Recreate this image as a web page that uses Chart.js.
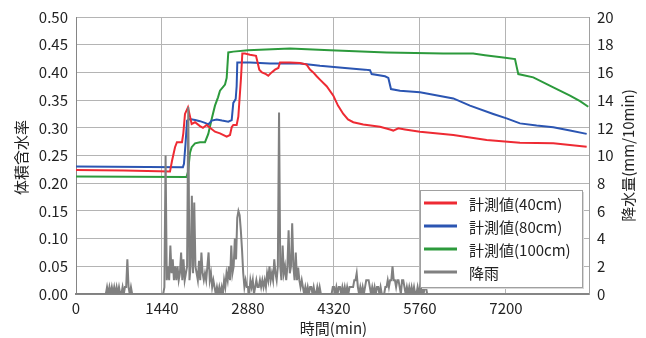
<!DOCTYPE html>
<html>
<head>
<meta charset="utf-8">
<script src="https://cdn.jsdelivr.net/npm/chart.js@4"></script>
<style>
  html, body { margin: 0; padding: 0; background: #fff; }
</style>
</head>
<body>
<canvas id="chart" width="646" height="338"></canvas>
<script>
// 経過時間 (min) と体積含水率 — 深さ別
const t40 = [0, 800, 1574, 1607, 1658, 1690, 1775, 1797, 1825, 1875, 1937, 1993, 2076, 2126, 2188, 2244,
  2327, 2411, 2523, 2579, 2607, 2634, 2690, 2718, 2763, 2785, 2830, 2913, 3014, 3047, 3069, 3114,
  3181, 3220, 3276, 3332, 3388, 3416, 3583, 3751, 3862, 3918, 3973, 4030, 4085, 4197, 4309, 4387,
  4476, 4554, 4643, 4810, 5090, 5258, 5313, 5397, 5509, 5760, 6318, 6877, 7434, 7992, 8551];
const v40 = [0.224, 0.223, 0.221, 0.240, 0.265, 0.274, 0.274, 0.290, 0.325, 0.337, 0.307, 0.310, 0.303, 0.300, 0.305, 0.300,
  0.293, 0.290, 0.284, 0.287, 0.301, 0.305, 0.305, 0.320, 0.390, 0.434, 0.434, 0.432, 0.430, 0.415, 0.405, 0.400,
  0.397, 0.394, 0.400, 0.405, 0.408, 0.418, 0.418, 0.417, 0.414, 0.405, 0.400, 0.393, 0.387, 0.375, 0.358, 0.340,
  0.325, 0.315, 0.310, 0.306, 0.302, 0.297, 0.295, 0.299, 0.297, 0.293, 0.287, 0.278, 0.273, 0.272, 0.266];

const t80 = [0, 1790, 1808, 1833, 1860, 1909, 1993, 2076, 2160, 2215, 2272, 2356, 2445, 2550, 2607, 2634,
  2674, 2690, 2701, 2913, 3248, 3751, 4085, 4504, 4839, 4923, 4951, 5174, 5230, 5274, 5425, 5760,
  6318, 6597, 6987, 7210, 7434, 7713, 7992, 8272, 8551];
const v80 = [0.230, 0.229, 0.235, 0.270, 0.313, 0.316, 0.314, 0.312, 0.309, 0.306, 0.313, 0.315, 0.313, 0.311, 0.314, 0.345,
  0.352, 0.375, 0.418, 0.418, 0.416, 0.416, 0.412, 0.408, 0.405, 0.404, 0.397, 0.393, 0.390, 0.370, 0.367, 0.364,
  0.353, 0.340, 0.325, 0.317, 0.308, 0.304, 0.301, 0.295, 0.289];

const t100 = [0, 1850, 1875, 1909, 1937, 1993, 2076, 2160, 2215, 2272, 2327, 2378, 2411, 2495, 2523, 2550,
  2634, 2880, 3583, 4253, 5202, 6150, 6650, 6848, 7155, 7351, 7379, 7406, 7657, 7992, 8272, 8440, 8578];
const v100 = [0.212, 0.211, 0.220, 0.255, 0.265, 0.272, 0.274, 0.274, 0.289, 0.316, 0.340, 0.355, 0.367, 0.378, 0.390, 0.436,
  0.4375, 0.440, 0.443, 0.440, 0.436, 0.434, 0.434, 0.431, 0.427, 0.424, 0.410, 0.397, 0.391, 0.373, 0.358, 0.348, 0.338];

// 降雨 (mm/10min)、20分おき、0分から
const rainStep = 20;
const rain = [
  0, 0, 0, 0, 0, 0, 0, 0, 0, 0, 0, 0,
  0, 0, 0, 0, 0, 0, 0, 0, 0, 0, 0, 0,
  0, 0, 0.5, 0, 0.5, 0, 0.5, 0, 0.5, 0, 0.5, 0,
  0.5, 0, 0, 0.5, 0, 0.5, 0.5, 2.5, 0.5, 0, 0.5, 0,
  0, 0, 0, 0, 0, 0, 0, 0, 0, 0, 0, 0,
  0, 0, 0, 0, 0, 0, 0, 0, 0, 0, 0, 0,
  0, 0, 0.5, 10.0, 1.0, 2.0, 1.0, 3.5, 1.5, 2.5, 1.0, 2.0,
  1.0, 2.0, 1.0, 1.5, 3.0, 1.0, 2.5, 1.0, 1.5, 2.0, 13.5, 1.0,
  2.0, 7.1, 1.5, 6.6, 2.0, 1.5, 1.0, 2.4, 1.0, 3.0, 1.5, 1.0,
  1.5, 1.0, 2.0, 3.0, 1.0, 1.5, 0.5, 1.0, 0.5, 0, 0.5, 0,
  0.5, 0, 0.5, 0, 1.0, 0.5, 1.5, 1.0, 2.0, 1.0, 3.5, 1.5,
  2.0, 4.0, 2.5, 5.5, 6.0, 5.7, 4.6, 3.2, 1.5, 0.5, 1.0, 0.5,
  0.5, 0, 1.0, 0.5, 1.0, 0, 0.5, 1.0, 0.5, 0.5, 1.0, 0.5,
  1.0, 0.5, 1.0, 0.5, 1.5, 1.0, 2.0, 1.0, 1.5, 1.0, 2.5, 1.5,
  1.0, 2.0, 13.1, 2.0, 1.0, 3.5, 1.5, 2.0, 1.0, 2.0, 4.6, 1.5,
  2.0, 5.1, 2.0, 1.0, 3.0, 1.0, 1.9, 1.0, 0.5, 1.0, 0.5, 0,
  0.5, 0, 0.5, 0, 0.5, 0.5, 0, 0.5, 0, 0, 0.5, 0,
  0.5, 0, 0, 0, 0, 0, 0, 0, 0, 0, 0, 0.5,
  0.5, 0, 0.5, 0, 0.5, 0.5, 0, 0.5, 0, 0.5, 0, 0.5,
  0, 0.5, 0.5, 0.5, 0.5, 1.0, 1.0, 1.5, 0.5, 0, 0.5, 0,
  0.5, 0, 0.5, 1.0, 1.0, 1.0, 0.5, 0, 0.5, 0, 0.5, 0,
  0.5, 0.5, 0, 0.5, 0, 0, 0, 0.5, 0.5, 1.0, 0.5, 1.0,
  1.0, 2.0, 1.0, 1.0, 0.5, 1.0, 1.0, 0.5, 0, 1.0, 1.0, 0.5,
  0, 0.5, 0, 0.5, 0, 0.5, 0, 0.5, 0, 0, 0.5, 0,
  0.5, 0, 0.5, 0, 0.5, 0.5, 0, 0
];

const xTicks = [0, 1440, 2880, 4320, 5760, 7200];
const xMax = 8590;
const seriesNames = ['計測値(40cm)', '計測値(80cm)', '計測値(100cm)', '降雨'];
const seriesColors = ['#ee2a33', '#2b55b2', '#2c9a3c', '#808080'];

const FONT = '"Noto Sans CJK JP", "Noto Sans", sans-serif';
const pts = (ts, vs) => ts.map((t, i) => ({ x: t, y: vs[i] }));

// 軸タイトルと凡例(グラフ内右下)
const decor = {
  id: 'decor',
  afterDraw(chart) {
    const { ctx, chartArea: a } = chart;
    ctx.save();
    ctx.fillStyle = '#222';
    ctx.font = '15px ' + FONT;
    ctx.textAlign = 'center';
    ctx.textBaseline = 'middle';
    ctx.fillText('時間(min)', (a.left + a.right) / 2 + 1, 328);

    ctx.save();
    ctx.translate(21, (a.top + a.bottom) / 2 + 2);
    ctx.rotate(-Math.PI / 2);
    ctx.fillText('体積含水率', 0, 0);
    ctx.restore();

    ctx.save();
    ctx.translate(628, (a.top + a.bottom) / 2);
    ctx.rotate(-Math.PI / 2);
    ctx.fillText('降水量(mm/10min)', 0, 0);
    ctx.restore();

    // 凡例
    const w = 162, h = 97;
    const x0 = a.right - 7 - w, y0 = a.bottom - 7 - h;
    ctx.fillStyle = '#d8d8d8';
    ctx.fillRect(x0 + 2, y0 + 2, w, h);
    ctx.fillStyle = '#fff';
    ctx.fillRect(x0, y0, w, h);
    ctx.strokeStyle = '#a0a0a0';
    ctx.lineWidth = 1;
    ctx.strokeRect(x0 + 0.5, y0 + 0.5, w, h);
    ctx.textAlign = 'left';
    chart.data.datasets.forEach((ds, i) => {
      const y = y0 + 13 + i * 23;
      ctx.strokeStyle = ds.borderColor;
      ctx.lineWidth = 3;
      ctx.beginPath();
      ctx.moveTo(x0 + 4, y);
      ctx.lineTo(x0 + 37, y);
      ctx.stroke();
      ctx.fillStyle = '#222';
      ctx.fillText(ds.label, x0 + 49, y + 1);
    });
    ctx.restore();
  }
};

const tickFont = { family: FONT, size: 15 };

new Chart(document.getElementById('chart'), {
  type: 'line',
  data: {
    datasets: [
      { label: seriesNames[0], data: pts(t40, v40), borderColor: seriesColors[0], yAxisID: 'y', order: 1 },
      { label: seriesNames[1], data: pts(t80, v80), borderColor: seriesColors[1], yAxisID: 'y', order: 2 },
      { label: seriesNames[2], data: pts(t100, v100), borderColor: seriesColors[2], yAxisID: 'y', order: 3 },
      { label: seriesNames[3], data: rain.map((v, i) => ({ x: i * rainStep, y: v })), borderColor: seriesColors[3],
        yAxisID: 'y2', order: 0, borderWidth: 2 }
    ]
  },
  options: {
    responsive: false,
    animation: false,
    layout: { padding: { top: 16, left: 0, right: 0, bottom: 0 } },
    elements: {
      point: { radius: 0 },
      line: { borderWidth: 2, tension: 0, fill: false }
    },
    plugins: { legend: { display: false }, tooltip: { enabled: false } },
    scales: {
      x: {
        type: 'linear',
        min: 0,
        max: xMax,
        afterBuildTicks: (s) => { s.ticks = xTicks.map(v => ({ value: v })); },
        afterFit: (s) => { s.height = 44; },
        ticks: { font: tickFont, color: '#222', padding: 5, maxRotation: 0, callback: (v) => String(v) },
        grid: { color: '#b4b4b4', drawTicks: false },
        border: { color: '#858585', width: 2 }
      },
      y: {
        position: 'left',
        min: 0,
        max: 0.5,
        afterFit: (s) => { s.width = 76; },
        ticks: { stepSize: 0.05, font: tickFont, color: '#222', padding: 8, callback: (v) => v.toFixed(2) },
        grid: { color: '#b4b4b4', drawTicks: false },
        border: { color: '#858585', width: 1 }
      },
      y2: {
        position: 'right',
        min: 0,
        max: 20,
        afterFit: (s) => { s.width = 57; },
        ticks: { stepSize: 2, font: tickFont, color: '#222', padding: 8 },
        grid: { drawOnChartArea: false, drawTicks: false },
        border: { color: '#a0a0a0', width: 1 }
      }
    }
  },
  plugins: [decor]
});
</script>
</body>
</html>
